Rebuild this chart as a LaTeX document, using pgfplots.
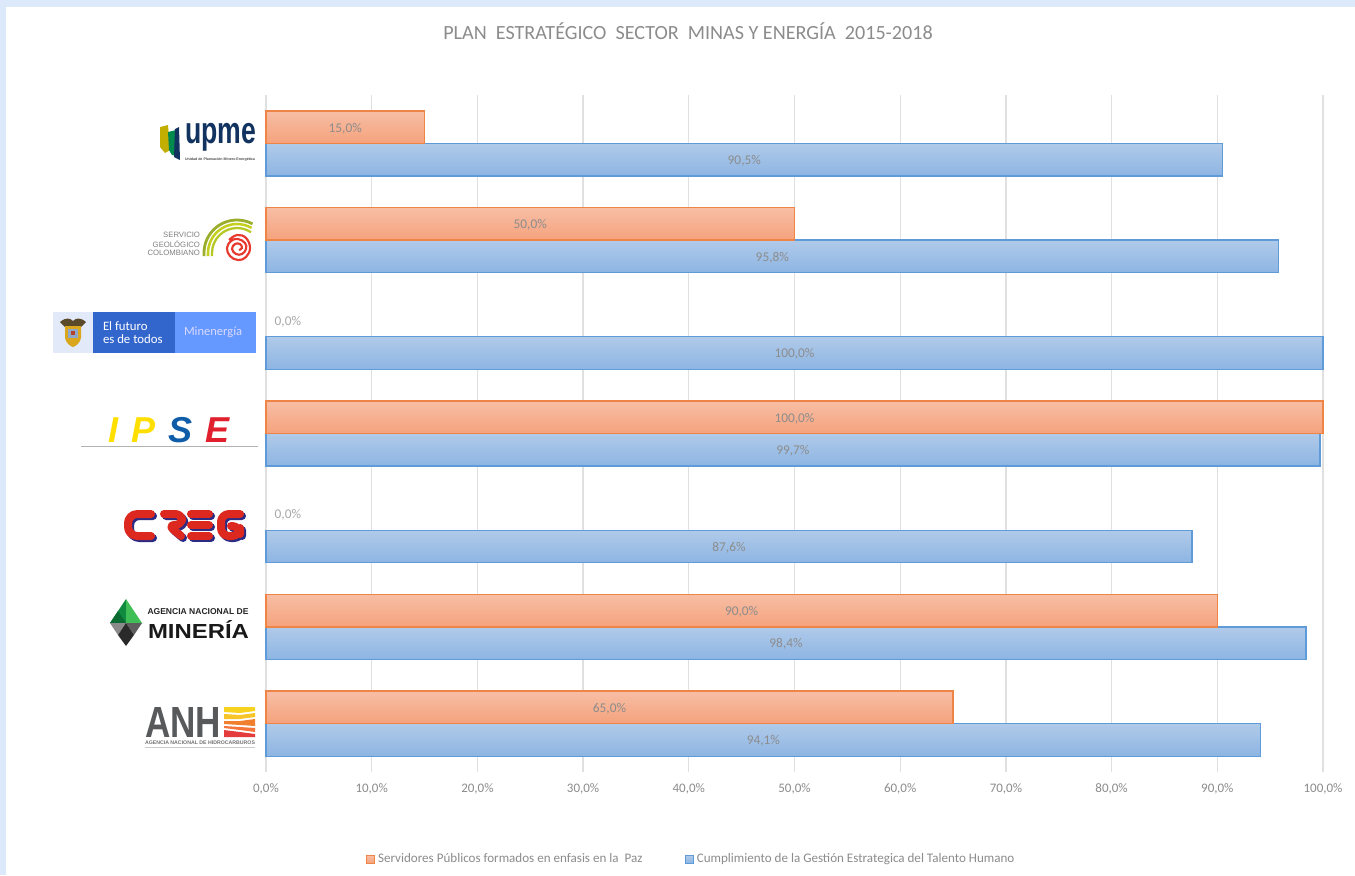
\documentclass[border=0pt]{standalone}
\usepackage{graphicx}
\usepackage{fontspec}
\setmainfont{Carlito}
\newfontfamily\lib{Liberation Sans}
\usepackage{pgfplots}
\usepackage{pgfplotstable}
\pgfplotsset{compat=1.18}
\tikzset{HTML/.code={\definecolor{tmpH}{HTML}{#1}\pgfkeysalso{color=tmpH}}}
\newdimen\pxu \pxu=.75pt
\definecolor{pagebg}{HTML}{DCE9FB}
\definecolor{gridc}{HTML}{E0E0E0}
\definecolor{otop}{HTML}{F7BEA5}
\definecolor{obot}{HTML}{F5A27C}
\definecolor{oedge}{HTML}{EE8547}
\definecolor{btop}{HTML}{B0CAE9}
\definecolor{bbot}{HTML}{8DB5E3}
\definecolor{bedge}{HTML}{5F9BD8}
\definecolor{txt}{HTML}{8C8C8C}
\pgfplotstableread{
y  o     b
0  15.0  90.5
1  50.0  95.8
2  0.0   100.0
3  100.0 99.7
4  0.0   87.6
5  90.0  98.4
6  65.0  94.1
}\datatab
\pgfplotsset{
  lblfmt/.style={
    nodes near coords={\pgfmathprintnumber[fixed,fixed zerofill,precision=1,use comma,assume math mode=true]{\pgfplotspointmeta}\%},
  },
}
\newcommand{\fit}[3]{\resizebox*{#1\pxu}{#2\pxu}{#3}}
\begin{document}
\begin{tikzpicture}
\useasboundingbox (0,0) rectangle (1355*.75pt,-875*.75pt);
\fill[pagebg] (0,0) rectangle (1355*.75pt,-875*.75pt);
\fill[white] (6*.75pt,-7*.75pt) rectangle (1355*.75pt,-875*.75pt);
\node[text=txt,font=\fontsize{15.1}{17}\selectfont,anchor=center] at (688*.75pt,-31*.75pt) {PLAN\ \ ESTRATÉGICO\ \ SECTOR\ \ MINAS Y ENERGÍA\ \ 2015-2018};
\begin{axis}[
  at={(266*.75pt,-772*.75pt)}, anchor=south west,
  scale only axis, width=1057*.75pt, height=677*.75pt,
  xmin=0, xmax=100, ymin=-0.5, ymax=6.5, y dir=reverse,
  clip=false,
  axis line style={draw=none},
  xmajorgrids, grid style={gridc,line width=1pt},
  major tick length=0pt,
  ytick=\empty,
  xtick={0,10,...,100},
  /pgf/number format/.cd,fixed,fixed zerofill,precision=1,use comma,assume math mode=true,
  /pgfplots/.cd,
  xticklabel={\pgfmathprintnumber{\tick}\%},
  xticklabel style={font=\fontsize{9.75}{11}\selectfont,text=txt,yshift=-5.5pt},
  legend columns=2,
  legend style={at={(axis cs:0,6.5)},anchor=north west,draw=none,fill=none,xshift=75pt,yshift=-59pt,
    font=\fontsize{9.8}{11}\selectfont,text=txt,inner sep=0pt,
    /tikz/every even column/.append style={column sep=30pt}},
  point meta=explicit,
]
\addlegendimage{legend image code/.code={\draw[oedge,line width=.8pt,top color=otop,bottom color=obot] (0pt,-3pt) rectangle (6pt,3pt);}}
\addlegendentry{Servidores Públicos formados en enfasis en la\ \ Paz}
\addlegendimage{legend image code/.code={\draw[bedge,line width=.8pt,top color=btop,bottom color=bbot] (0pt,-3pt) rectangle (6pt,3pt);}}
\addlegendentry{Cumplimiento de la Gestión Estrategica del Talento Humano}

\pgfplotsinvokeforeach{0,1,2,3,4,5,6}{
\addplot[forget plot,xbar,bar width=24.4pt,bar shift=-12.2pt,draw=bedge,line width=1pt,top color=btop,bottom color=bbot,
  restrict y to domain=#1:#1]
  table[x=b,y=y,meta=b] {\datatab};
}
\pgfplotsinvokeforeach{0,1,3,5,6}{
\addplot[forget plot,xbar,bar width=24.4pt,bar shift=12.2pt,draw=oedge,line width=1pt,top color=otop,bottom color=obot,
  restrict y to domain=#1:#1]
  table[x=o,y=y,meta=o] {\datatab};
}

\addplot[forget plot,only marks,mark=none,lblfmt,
  nodes near coords style={anchor=center,yshift=-13pt,text=txt,font=\fontsize{10}{12}\selectfont}]
  table[x expr=\thisrow{b}/2,y=y,meta=b] {\datatab};
\addplot[forget plot,only marks,mark=none,lblfmt,restrict x to domain=0.01:200,
  nodes near coords style={anchor=center,yshift=11.2pt,text=txt,font=\fontsize{10}{12}\selectfont}]
  table[x expr=\thisrow{o}/2,y=y,meta=o] {\datatab};
\addplot[forget plot,only marks,mark=none,lblfmt,restrict x to domain=-0.01:0.01,
  nodes near coords style={anchor=west,xshift=3pt,yshift=11.2pt,text=txt!75,font=\fontsize{10}{12}\selectfont}]
  table[x=o,y=y,meta=o] {\datatab};
\end{axis}

\begin{scope}[x=.75pt,y=-.75pt,every node/.style={inner sep=0pt,outer sep=0pt}]
% UPME
\fill[HTML=C2AE00] (160,127)--(168,125)--(170,150)--(165,153)--(160,147)--cycle;
\fill[HTML=008A4E] (168,132)--(176,130)--(178,156)--(172,155)--(169,150)--cycle;
\fill[HTML=12335F] (175,129)--(179,127)--(180,160)--(174,157)--cycle;
\node[anchor=north west] at (185,123) {\fit{71}{28}{\lib\bfseries\color[HTML]{12335F}upme}};
\node[anchor=west] at (185,160) {\resizebox{70\pxu}{!}{\lib\bfseries\color{black!70}Unidad de Planeación Minero Energética}};
% SGC
\node[anchor=east,text=black!50,font=\lib\fontsize{5.8}{7}\selectfont] at (200,235) {SERVICIO};
\node[anchor=east,text=black!50,font=\lib\fontsize{5.8}{7}\selectfont] at (200,244) {GEOLÓGICO};
\node[anchor=east,text=black!50,font=\lib\fontsize{5.8}{7}\selectfont] at (200,253) {COLOMBIANO};
\draw[HTML=9AAE2C,line width=2.1pt] (204,256)--(204,253) arc[start angle=180,end angle=62,radius=33\pxu];
\draw[HTML=C4CF1E,line width=1.9pt] (208,256)--(208,253) arc[start angle=180,end angle=60,radius=29\pxu];
\draw[HTML=B6C823,line width=1.7pt] (212,256)--(212,253) arc[start angle=180,end angle=56,radius=25\pxu];
\draw[HTML=E8392F,line width=1.6pt] plot[smooth,tension=.7] coordinates {(229,240)(237,235)(246,238)(250,248)(246,257)(238,260)(230,256)(227,248)(231,241)(238,239)(245,243)(246,249)(242,254)(236,254)(232,249)(235,244)(240,244)(242,248)(239,250)};
% Minenergia
\fill[HTML=E2E9F9] (53,312) rectangle (93,353);
\fill[HTML=3366CC] (93,312) rectangle (174.5,353);
\fill[HTML=6699FF] (174.5,312) rectangle (256,353);
\fill[HTML=5A4A2A] (60,322) .. controls (66,317) and (70,318) .. (73,321) .. controls (76,318) and (80,317) .. (86,322) -- (80,328) -- (66,328) -- cycle;
\fill[HTML=D9A61E] (65,326) -- (81,326) -- (81,338) .. controls (80,343) and (76,346) .. (73,347) .. controls (70,346) and (66,343) .. (65,338) -- cycle;
\fill[HTML=8FA7C8] (68,329) rectangle (78,338);
\fill[HTML=B5432C] (71,331) rectangle (75,335);
\node[anchor=west,align=left,text=white,font=\fontsize{9.6}{10}\selectfont] at (103,332.5) {El futuro\\es de todos};
\node[anchor=west,text=white!85!blue,font=\fontsize{9.4}{11}\selectfont] at (184,332.5) {Minenergía};
% IPSE
\foreach \xx/\cc/\lt in {108/FFDF00/I,131/FFDF00/P,168/0F5CA8/S,205/E0202C/E}{
  \definecolor{tmpc}{HTML}{\cc}
  \node[anchor=base west,font=\lib\bfseries\itshape\fontsize{27}{30}\selectfont,text=tmpc] at (\xx,442.5) {\lt};
}
\draw[black!30,line width=.8pt] (81,446.5)--(258,446.5);
% CREG
\foreach \cc/\dx in {2B2B85/2,DC281E/0}{
\begin{scope}[shift={(\dx,\dx)}]
  \definecolor{tmpc}{HTML}{\cc}
  \draw[tmpc,line width=6pt,line cap=round,line join=round,rounded corners=7pt] (151,514)--(128,514)--(128,536)--(151,536);
  \draw[tmpc,line width=6pt,line cap=round,line join=round,rounded corners=5pt] (164,514)--(182,514)--(182,525)--(168,525)--(181,536);
  \draw[tmpc,line width=6pt,line cap=round] (191,514)--(209,514) (191,525)--(209,525) (191,536)--(209,536);
  \draw[tmpc,line width=6pt,line cap=round,line join=round,rounded corners=6pt] (240,514)--(221,514)--(221,536)--(240,536)--(240,526)--(231,526);
\end{scope}}
% ANM
\fill[HTML=0F8A3F] (126,599)--(110,623)--(126,623)--cycle;
\fill[HTML=3FBF55] (126,599)--(142,623)--(126,623)--cycle;
\fill[HTML=0B6B33] (118,611)--(126,623)--(110,623)--cycle;
\fill[HTML=8A8A8A] (110,623)--(126,623)--(118,635)--cycle;
\fill[HTML=5E5E5E] (142,623)--(126,623)--(134,635)--cycle;
\fill[HTML=2A2A2A] (126,623)--(134,635)--(126,646)--(118,635)--cycle;
\node[anchor=west] at (147.5,611.5) {\resizebox{101\pxu}{!}{\lib\bfseries\color{black!85}AGENCIA NACIONAL DE}};
\node[anchor=north west] at (148,620) {\fit{101}{18}{\lib\bfseries\color{black!90}MINERÍA}};
% ANH
\node[anchor=north west] at (145,707) {\fit{76}{30}{\lib\bfseries\color[HTML]{58595B}ANH}};
\fill[HTML=F7D21E] (224,707)--(255,707)--(255,711)--(240,713)--(224,712)--cycle;
\fill[HTML=F7C52A] (224,714)--(240,715)--(255,713)--(255,717)--(240,719)--(224,719)--cycle;
\fill[HTML=F08030] (224,721)--(240,721)--(255,719)--(255,726)--(240,725)--(224,724)--cycle;
\fill[HTML=F4743B] (224,726)--(240,727)--(255,728)--(255,732)--(240,730)--(224,728)--cycle;
\fill[HTML=E43C3C] (224,730)--(240,732)--(255,734)--(255,737)--(224,737)--cycle;
\node[anchor=west] at (145,742.5) {\resizebox{110\pxu}{!}{\lib\bfseries\color{black!55}AGENCIA NACIONAL DE HIDROCARBUROS}};
\draw[black!20,line width=.5pt] (145,747)--(255,747);
\end{scope}
\end{tikzpicture}
\end{document}
